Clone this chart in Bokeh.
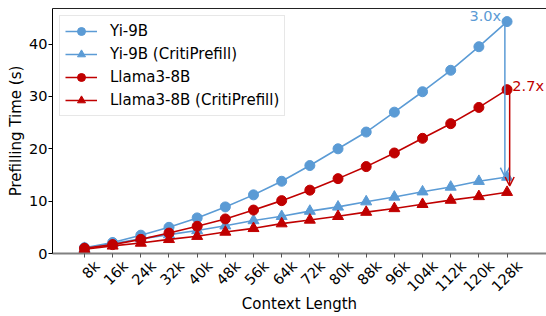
import math
from bokeh.plotting import figure
from bokeh.models import LinearAxis, FixedTicker, Arrow, OpenHead, Label, Range1d
from bokeh.embed import file_html
from bokeh.resources import INLINE

context_k = [8, 16, 24, 32, 40, 48, 56, 64, 72, 80, 88, 96, 104, 112, 120, 128]
tick_labels = [f"{c}k" for c in context_k]
yi_9b = [1.1, 2.1, 3.5, 5.0, 6.8, 8.9, 11.2, 13.8, 16.8, 20.0, 23.2, 27.0, 30.9, 35.0, 39.5, 44.3]
yi_9b_crit = [1.0, 1.9, 2.8, 3.6, 4.4, 5.3, 6.3, 7.1, 8.1, 8.9, 9.9, 10.8, 11.8, 12.7, 13.8, 14.6]
llama = [1.0, 1.7, 2.7, 3.9, 5.2, 6.6, 8.3, 10.1, 12.1, 14.3, 16.6, 19.2, 22.0, 24.8, 27.9, 31.3]
llama_crit = [0.8, 1.45, 2.0, 2.7, 3.3, 4.1, 4.8, 5.7, 6.4, 7.1, 7.9, 8.6, 9.4, 10.2, 10.9, 11.7]
speedup_labels = ["3.0x", "2.7x"]

BLUE = "#5b9bd5"
RED = "#c00000"
FONT = "DejaVu Sans"
FS_TICK = "14.5px"
FS = "15px"
LABEL_SHIFT_K = 3.6  # shift rotated labels so they sit centred under their ticks

p = figure(width=546, height=316, output_backend="svg", toolbar_location=None,
           x_range=Range1d(-1.08, 139.2), y_range=Range1d(0, 46.8),
           min_border_left=52, min_border_right=0, min_border_top=8, min_border_bottom=0)
p.outline_line_color = None
p.grid.visible = False
p.background_fill_color = "white"

# series
for ys, color, marker, label in [
    (yi_9b, BLUE, "circle", "Yi-9B"),
    (yi_9b_crit, BLUE, "triangle", "Yi-9B (CritiPrefill)"),
    (llama, RED, "circle", "Llama3-8B"),
    (llama_crit, RED, "triangle", "Llama3-8B (CritiPrefill)"),
]:
    p.line(context_k, ys, color=color, line_width=1.6, legend_label=label)
    p.scatter(context_k, ys, marker=marker, color=color,
              size=10 if marker == "circle" else 11, legend_label=label)

# arrows
p.add_layout(Arrow(end=OpenHead(size=9, line_color=BLUE, line_width=1.5),
                   x_start=context_k[-1] - 0.62, y_start=yi_9b[-1],
                   x_end=context_k[-1] - 0.62, y_end=yi_9b_crit[-1] + 0.1,
                   line_color=BLUE, line_width=1.5))
p.add_layout(Arrow(end=OpenHead(size=9, line_color=RED, line_width=1.5),
                   x_start=context_k[-1] + 0.74, y_start=llama[-1],
                   x_end=context_k[-1] + 0.74, y_end=llama_crit[-1] + 1.2,
                   line_color=RED, line_width=1.5))
p.add_layout(Label(x=context_k[-1] - 1.7, y=yi_9b[-1] + 1.07, text=speedup_labels[0],
                   text_color=BLUE, text_font=FONT, text_font_size="14.5px",
                   text_align="right", text_baseline="middle"))
p.add_layout(Label(x=context_k[-1] + 1.5, y=llama[-1] + 0.7, text=speedup_labels[1],
                   text_color=RED, text_font=FONT, text_font_size="14.5px",
                   text_align="left", text_baseline="middle"))

# x axis: labels on shifted major ticks (centred under the real ticks),
# real tick marks drawn as minor ticks
shifted = [c + LABEL_SHIFT_K for c in context_k]
xa = p.xaxis[0]
xa.ticker = FixedTicker(ticks=shifted, minor_ticks=context_k)
xa.major_label_overrides = {s: t for s, t in zip(shifted, tick_labels)}
xa.major_label_orientation = math.pi / 4
xa.axis_line_color = "#808080"
xa.axis_line_width = 2
xa.major_tick_line_color = None
xa.major_tick_in = 0
xa.major_tick_out = 0
xa.minor_tick_line_color = "#555555"
xa.minor_tick_in = 0
xa.minor_tick_out = 4
xa.major_label_standoff = 6
xa.axis_label = "Context Length"
xa.axis_label_standoff = -8

ya = p.yaxis[0]
ya.ticker = FixedTicker(ticks=[0, 10, 20, 30, 40])
ya.axis_label = "Prefilling Time (s)"
ya.axis_line_color = "black"
ya.major_tick_line_color = "black"
ya.major_tick_in = 0
ya.major_tick_out = 4
ya.minor_tick_line_color = None
ya.major_label_standoff = 1
ya.axis_label_standoff = 1

for ax in (xa, ya):
    ax.major_label_text_font = FONT
    ax.major_label_text_font_size = FS_TICK
    ax.major_label_text_color = "black"
    ax.axis_label_text_font = FONT
    ax.axis_label_text_font_size = FS
    ax.axis_label_text_font_style = "normal"
    ax.axis_label_text_color = "black"

top = LinearAxis(major_tick_line_color=None, minor_tick_line_color=None,
                 axis_line_color="#222222")
top.ticker = FixedTicker(ticks=[])
p.add_layout(top, "above")

lg = p.legend[0]
lg.location = "top_left"
lg.margin = 7
lg.label_text_font = FONT
lg.label_text_font_size = FS
lg.label_text_color = "black"
lg.border_line_color = "#d0d0d0"
lg.border_line_width = 1
lg.glyph_width = 32
lg.glyph_height = 20
lg.label_height = 20
lg.spacing = 3
lg.padding = 5
lg.label_standoff = 13

open("out.html", "w").write(file_html(p, INLINE))
